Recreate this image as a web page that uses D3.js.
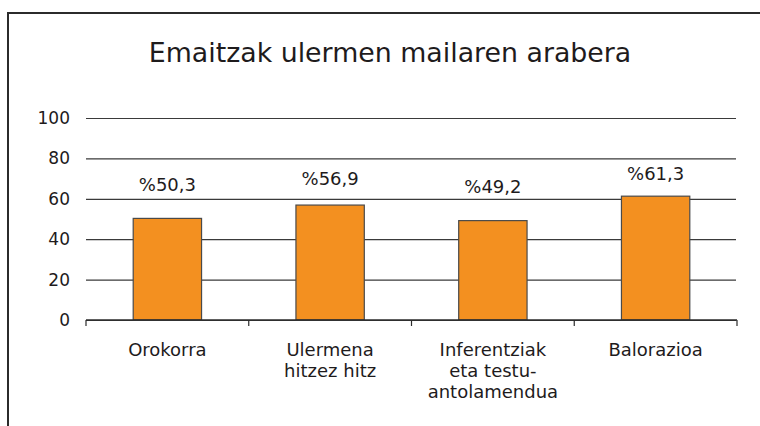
<!DOCTYPE html>
<html>
<head>
<meta charset="utf-8">
<script src="https://cdn.jsdelivr.net/npm/d3@7"></script>
<style>
  body { margin: 0; background: #fff; }
  svg { display: block; font-family: "DejaVu Sans", sans-serif; }
</style>
</head>
<body>
<svg id="chart" width="760" height="426"></svg>
<script>
// chart data
var title = "Emaitzak ulermen mailaren arabera";
var categories = [
    ["Orokorra"],
    ["Ulermena", "hitzez hitz"],
    ["Inferentziak", "eta testu-", "antolamendua"],
    ["Balorazioa"]
];
var values = [50.3, 56.9, 49.2, 61.3];
var valueLabels = ["%50,3", "%56,9", "%49,2", "%61,3"];
var yTicks = [0, 20, 40, 60, 80, 100];

var svg = d3.select("#chart"),
    plotLeft = 86,
    plotRight = 737,
    plotTop = 118,
    plotBottom = 320,
    textColor = "#1e1b1c";

// outer frame, runs off the right and bottom edge
svg.append("path")
    .attr("d", "M8,440 L8,13 L780,13")
    .attr("fill", "none")
    .attr("stroke", "#2b2b2b")
    .attr("stroke-width", 2);

svg.append("text")
    .attr("x", 390)
    .attr("y", 62)
    .attr("text-anchor", "middle")
    .style("font-size", "26.8px")
    .style("fill", textColor)
    .text(title);

var x = d3.scaleBand()
    .domain(d3.range(categories.length))
    .range([plotLeft, plotRight])
    .paddingInner(0.58)
    .paddingOuter(0.29);

var y = d3.scaleLinear()
    .domain([0, 100])
    .range([plotBottom, plotTop]);

// horizontal gridlines + y labels
var yAxis = svg.append("g")
    .attr("transform", "translate(" + plotLeft + ",0)")
    .call(d3.axisLeft(y).tickValues(yTicks).tickSize(-(plotRight - 1 - plotLeft)).tickPadding(16));
yAxis.select(".domain").remove();
yAxis.selectAll(".tick line")
    .attr("stroke", "#3a3a3a")
    .attr("stroke-width", 1.2);
yAxis.selectAll(".tick text")
    .style("font-size", "17px")
    .style("font-family", "DejaVu Sans, sans-serif")
    .attr("fill", textColor);

// bars
svg.selectAll(".bar")
    .data(values)
    .enter()
    .append("rect")
    .attr("class", "bar")
    .attr("x", function(d, i) { return x(i); })
    .attr("y", function(d) { return y(d); })
    .attr("width", x.bandwidth())
    .attr("height", function(d) { return y(0) - y(d); })
    .attr("fill", "#f39020")
    .attr("stroke", "#4a4a4a")
    .attr("stroke-width", 1.2);

// value labels above the bars (placed between bar top and the 75 line)
svg.selectAll(".valueLabel")
    .data(values)
    .enter()
    .append("text")
    .attr("class", "valueLabel")
    .attr("x", function(d, i) { return x(i) + x.bandwidth() / 2; })
    .attr("y", function(d) { return (y(d) + y(75)) / 2 - 2; })
    .attr("text-anchor", "middle")
    .style("font-size", "18px")
    .style("fill", textColor)
    .text(function(d, i) { return valueLabels[i]; });

// x axis line with ticks between categories
var xEdges = d3.range(categories.length + 1).map(function(i) {
    return plotLeft + i * (plotRight - plotLeft) / categories.length;
});
svg.append("line")
    .attr("x1", plotLeft).attr("x2", plotRight)
    .attr("y1", plotBottom).attr("y2", plotBottom)
    .attr("stroke", "#2b2b2b")
    .attr("stroke-width", 1.5);
svg.selectAll(".xTick")
    .data(xEdges)
    .enter()
    .append("line")
    .attr("x1", function(d) { return d; })
    .attr("x2", function(d) { return d; })
    .attr("y1", plotBottom)
    .attr("y2", plotBottom + 6)
    .attr("stroke", "#2b2b2b")
    .attr("stroke-width", 1.2);

// category labels, multi-line
svg.selectAll(".catLabel")
    .data(categories)
    .enter()
    .append("text")
    .attr("class", "catLabel")
    .attr("text-anchor", "middle")
    .style("font-size", "18px")
    .style("fill", textColor)
    .each(function(lines, i) {
        var cx = x(i) + x.bandwidth() / 2;
        d3.select(this).selectAll("tspan")
            .data(lines)
            .enter()
            .append("tspan")
            .attr("x", cx)
            .attr("y", function(d, j) { return 356 + j * 21; })
            .text(function(d) { return d; });
    });
</script>
</body>
</html>
